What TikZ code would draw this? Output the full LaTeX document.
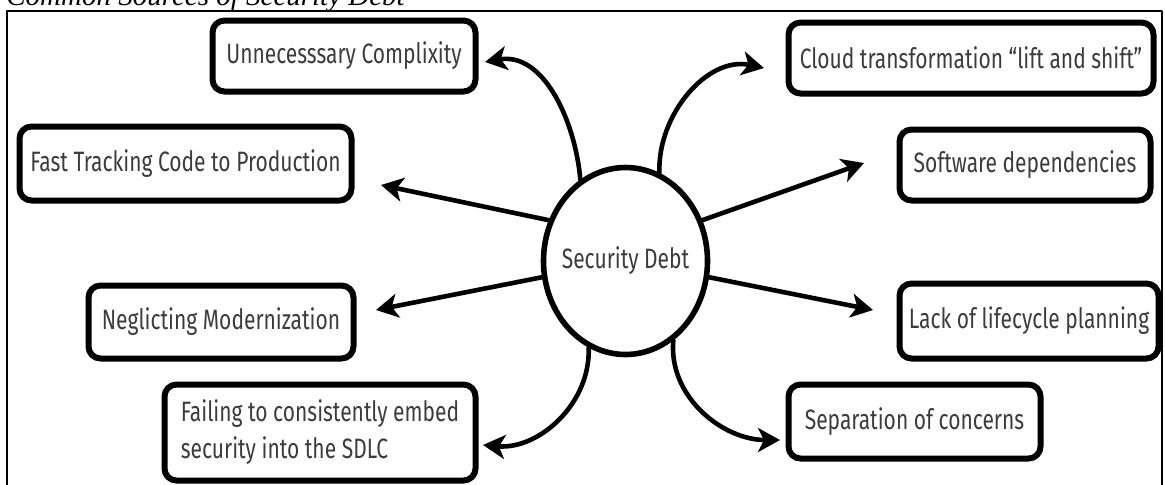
\documentclass[tikz,border=0pt]{standalone}
\usepackage{fontspec}
\newfontfamily\capfont{Liberation Serif}
\newfontfamily\boxfont[FakeStretch=0.75]{Fira Sans}
\usetikzlibrary{arrows.meta,shapes.geometric}
\definecolor{labelgray}{HTML}{3C3C3C}

\begin{document}
\begin{tikzpicture}[x=0.5pt, y=-0.5pt, line cap=round, line join=round,
  cause/.style={draw, line width=3pt, rounded corners=6pt, fill=white,
    font=\boxfont\fontsize{14}{18.5}\selectfont, text=labelgray, inner sep=0pt},
  hub/.style={draw, ellipse, line width=2.8pt, fill=white,
    font=\boxfont\fontsize{14}{18.5}\selectfont, text=labelgray,
    inner xsep=-4pt, inner ysep=0pt},
  link/.style={-{Stealth[length=11pt, width=12pt, inset=3pt]}, line width=2.3pt}]

% ----------------------------
% PAGE AND FRAME
% ----------------------------
\useasboundingbox (0,0) rectangle (1165,484);
\node[overlay, font=\capfont\itshape\fontsize{14.5}{16}\selectfont, anchor=base west, inner sep=0pt]
  (title) at (6,5) {Common Sources of Security Debt};
\draw[overlay, line width=0.8pt] (7,11) rectangle (1162,500);

% ----------------------------
% CENTRE
% ----------------------------
\node[hub, minimum width=82pt, minimum height=93.5pt] (debt) at (625.5,261) {Security Debt};

% ----------------------------
% LEFT CAUSES
% ----------------------------
\node[cause, minimum width=131.5pt, minimum height=35.5pt] (unn) at (344,56) {Unnecesssary Complixity};
\node[cause, minimum width=166pt, minimum height=37pt] (fast) at (185.5,163.5) {Fast Tracking Code to Production};
\node[cause, minimum width=132.5pt, minimum height=36.5pt] (negl) at (221,322) {Neglicting Modernization};
\node[cause, minimum width=155.5pt, minimum height=48pt, align=left] (fail) at (320,432.5)
  {Failing to consistently embed\\security into the SDLC};

% ----------------------------
% RIGHT CAUSES
% ----------------------------
\node[cause, minimum width=182.5pt, minimum height=35.5pt] (cloud) at (971,58) {Cloud transformation “lift and shift”};
\node[cause, minimum width=125.5pt, minimum height=35.5pt] (soft) at (1025,165) {Software dependencies};
\node[cause, minimum width=129.5pt, minimum height=37.5pt] (lack) at (1029,321) {Lack of lifecycle planning};
\node[cause, minimum width=126pt, minimum height=37pt] (sep) at (914.5,421.5) {Separation of concerns};

% ----------------------------
% STRAIGHT ARROWS
% ----------------------------
\draw[link] (debt.152) -- ([xshift=13.25pt, yshift=-10.75pt]fast.east);
\draw[link] (debt.191) -- ([xshift=9.75pt, yshift=6pt]negl.east);
\draw[link] (debt.28) -- ([xshift=-16.25pt, yshift=1pt]soft.west);
\draw[link] (debt.349) -- ([xshift=-11.75pt, yshift=5.5pt]lack.west);

% ----------------------------
% CURVED ARROWS
% ----------------------------
\draw[link] (debt.119) to[out=95, in=10] ([xshift=3.25pt, yshift=-3pt]unn.east);
\draw[link] (debt.69) to[out=92, in=168] ([xshift=-10.75pt, yshift=-5pt]cloud.west);
\draw[link] (debt.247) to[out=-88, in=-5] ([xshift=2.25pt, yshift=-6.25pt]fail.east);
\draw[link] (debt.301) to[out=-95, in=180] ([xshift=-2.75pt, yshift=-9.25pt]sep.west);

\end{tikzpicture}
\end{document}
